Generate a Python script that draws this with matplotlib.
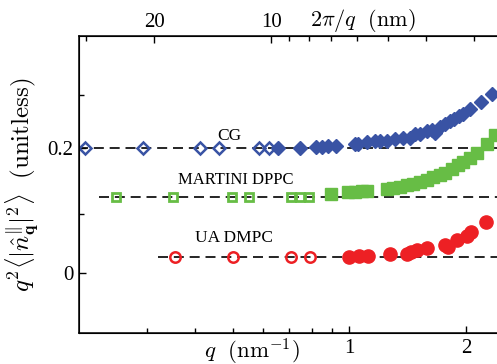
import numpy as np
import matplotlib
matplotlib.use("Agg")
import matplotlib.pyplot as plt
from matplotlib.ticker import FixedLocator, FixedFormatter, NullFormatter, LogLocator

plt.rcParams['font.family'] = ['Liberation Serif', 'DejaVu Serif']
plt.rcParams['mathtext.fontset'] = 'cm'

# ---------------- data ----------------
# CG (blue diamonds)
cg_open_q = [0.208, 0.294, 0.413, 0.462, 0.583, 0.619]
cg_open_y = [0.200, 0.200, 0.200, 0.200, 0.200, 0.200]
cg_q = [0.653, 0.744, 0.821, 0.849, 0.878, 0.924, 1.034, 1.055, 1.108, 1.164,
        1.199, 1.248, 1.311, 1.377, 1.432, 1.475, 1.519, 1.581, 1.629, 1.661,
        1.711, 1.762, 1.815, 1.858, 1.918, 1.964, 2.042, 2.181, 2.323]
cg_y = [0.2005, 0.2005, 0.202, 0.202, 0.203, 0.204, 0.206, 0.206, 0.209, 0.211,
        0.211, 0.212, 0.215, 0.216, 0.216, 0.222, 0.223, 0.228, 0.229, 0.224,
        0.234, 0.239, 0.243, 0.246, 0.251, 0.255, 0.262, 0.274, 0.286]
cg_base = 0.200

# MARTINI DPPC (green squares)
mar_open_q = [0.251, 0.352, 0.498, 0.552, 0.706, 0.746, 0.786]
mar_open_y = [0.122, 0.122, 0.122, 0.122, 0.122, 0.122, 0.122]
mar_q = [0.896, 0.994, 1.034, 1.076, 1.112, 1.248, 1.298, 1.350, 1.405, 1.461,
         1.519, 1.581, 1.644, 1.711, 1.762, 1.834, 1.906, 1.964, 2.042, 2.126,
         2.263, 2.370]
mar_y = [0.1266, 0.1302, 0.1302, 0.1313, 0.1318, 0.134, 0.1356, 0.1382, 0.141, 0.1425,
         0.1452, 0.149, 0.1532, 0.157, 0.161, 0.166, 0.173, 0.178, 0.185, 0.1915,
         0.206, 0.221]
mar_base = 0.122

# UA DMPC (red circles)
ua_open_q = [0.355, 0.502, 0.708, 0.793]
ua_open_y = [0.0255, 0.0255, 0.0255, 0.0255]
ua_q = [1.000, 1.061, 1.119, 1.272, 1.405, 1.441, 1.490, 1.581, 1.762, 1.797,
        1.895, 2.004, 2.051, 2.255]
ua_y = [0.0265, 0.0281, 0.0281, 0.0303, 0.031, 0.034, 0.038, 0.040, 0.045, 0.043,
        0.053, 0.060, 0.066, 0.082]
ua_base = 0.0255

top_major = [20, 10, 2]
top_minor = [30, 9, 8, 7, 6, 5, 4, 3]

blue = '#3953a4'
green = '#67bd45'
red = '#ed2024'

fig = plt.figure(figsize=(4.97, 3.64), dpi=100)
ax = fig.add_axes([0.159, 0.0852, 0.841, 0.816])

dash = (0, (6, 3.5))
ax.plot([0.2, 3.0], [cg_base, cg_base], color='k', lw=1.2, linestyle=dash, zorder=1)
ax.plot([0.226, 3.0], [mar_base, mar_base], color='k', lw=1.2, linestyle=dash, zorder=1)
ax.plot([0.321, 3.0], [ua_base, ua_base], color='k', lw=1.2, linestyle=dash, zorder=1)

ax.plot(cg_open_q, cg_open_y, 'D', ms=6.5, mfc='none', mec=blue, mew=1.8, zorder=3)
ax.plot(cg_q, cg_y, 'D', ms=7.5, color=blue, mec=blue, zorder=3)
ax.plot(mar_open_q, mar_open_y, 's', ms=6, mfc='none', mec=green, mew=2.0, zorder=3)
ax.plot(mar_q, mar_y, 's', ms=8, color=green, zorder=3)
ax.plot(ua_open_q, ua_open_y, 'o', ms=7.5, mfc='none', mec=red, mew=1.8, zorder=3)
ax.plot(ua_q, ua_y, 'o', ms=9.5, color=red, zorder=3)

ax.text(0.491, 0.219, 'CG', fontsize=12.5, ha='center', va='center')
ax.text(0.508, 0.149, 'MARTINI DPPC', fontsize=12, ha='center', va='center')
ax.text(0.505, 0.0563, 'UA DMPC', fontsize=12.5, ha='center', va='center')

ax.set_xscale('log')
ax.set_xlim(0.201, 2.40)
ax.set_ylim(-0.095, 0.379)

ax.xaxis.set_major_locator(FixedLocator([1, 2]))
ax.xaxis.set_major_formatter(FixedFormatter(['1', '2']))
ax.xaxis.set_minor_locator(LogLocator(subs=np.arange(2, 10)))
ax.xaxis.set_minor_formatter(NullFormatter())
ax.yaxis.set_major_locator(FixedLocator([0, 0.2]))
ax.yaxis.set_major_formatter(FixedFormatter(['0', '0.2']))
ax.yaxis.set_minor_locator(FixedLocator([0.095, 0.284]))

ax.tick_params(which='both', direction='in', labelsize=15, width=1.0)
ax.tick_params(which='major', length=5, pad=4)
ax.tick_params(which='minor', length=3.5)
ax.tick_params(axis='x', top=False)
ax.spines['right'].set_visible(False)
for s in ['left', 'bottom', 'top']:
    ax.spines[s].set_linewidth(1.1)

ax.set_xlabel(r'$q\ \ (\mathrm{nm}^{-1})$', fontsize=16.5)
ax.xaxis.set_label_coords(0.414, -0.012, transform=ax.transAxes)
ax.set_ylabel(r'$q^2\langle|\hat{n}^{\|}_{\mathbf{q}}|^2\rangle\ \ (\mathrm{unitless})$', fontsize=18)
ax.yaxis.set_label_coords(-0.09, 0.5)

top = ax.twiny()
top.set_xscale('log')
top.set_xlim(ax.get_xlim())
top.xaxis.set_major_locator(FixedLocator([2 * np.pi / v for v in top_major]))
top.xaxis.set_major_formatter(FixedFormatter([str(v) for v in top_major]))
top.xaxis.set_minor_locator(FixedLocator([2 * np.pi / v for v in top_minor]))
top.xaxis.set_minor_formatter(NullFormatter())
top.tick_params(which='both', direction='in', labelsize=15, width=1.0)
top.tick_params(which='major', length=5, pad=3)
top.tick_params(which='minor', length=3.5)
top.spines['right'].set_visible(False)
top.set_xlabel(r'$2\pi/q\ \ (\mathrm{nm})$', fontsize=16)
top.xaxis.set_label_coords(0.678, 1.035)

fig.savefig('out.png', dpi=100)
